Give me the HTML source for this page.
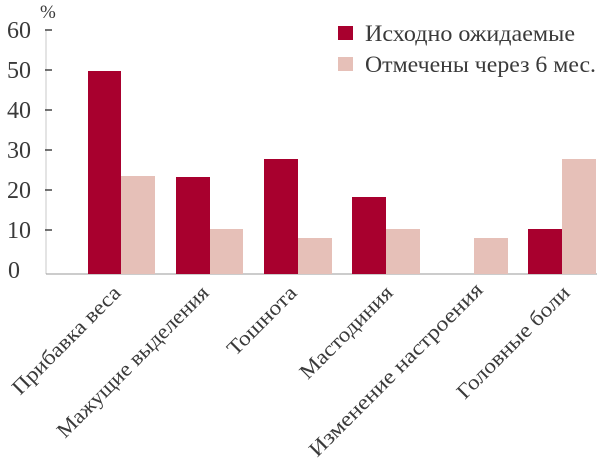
<!DOCTYPE html>
<html><head><meta charset="utf-8"><style>body{margin:0;background:#fff}svg{display:block}</style></head>
<body>
<svg width="600" height="465" xmlns="http://www.w3.org/2000/svg" font-family="'Liberation Serif', serif" fill="#3a3a3a">
<line x1="46" y1="30" x2="46" y2="274" stroke="#c8c8c8" stroke-width="1"/>
<line x1="46" y1="274" x2="597" y2="274" stroke="#999" stroke-width="1"/>
<g stroke="#444" stroke-width="1.5">
<line x1="45" y1="30" x2="52" y2="30"/><line x1="45" y1="70" x2="52" y2="70"/><line x1="45" y1="110" x2="52" y2="110"/><line x1="45" y1="150" x2="52" y2="150"/><line x1="45" y1="190" x2="52" y2="190"/><line x1="45" y1="230" x2="52" y2="230"/>
</g>
<g font-size="24" text-anchor="end">
<text x="31" y="38">60</text><text x="31" y="78">50</text><text x="31" y="118">40</text><text x="31" y="158">30</text><text x="31" y="198">20</text><text x="31" y="238">10</text><text x="20" y="278">0</text>
</g>
<text x="40" y="18" font-size="19">%</text>
<g fill="#a8002e">
<rect x="88" y="71" width="33" height="203"/>
<rect x="176" y="177" width="34" height="97"/>
<rect x="264" y="159" width="34" height="115"/>
<rect x="352" y="197" width="34" height="77"/>
<rect x="528" y="229" width="34" height="45"/>
</g>
<g fill="#e6c0b8">
<rect x="121" y="176" width="34" height="98"/>
<rect x="210" y="229" width="33" height="45"/>
<rect x="298" y="238" width="34" height="36"/>
<rect x="386" y="229" width="34" height="45"/>
<rect x="474" y="238" width="34" height="36"/>
<rect x="562" y="159" width="34" height="115"/>
</g>
<rect x="338" y="26" width="15" height="14" fill="#a8002e"/>
<rect x="338" y="57" width="15" height="14" fill="#e6c0b8"/>
<text x="365" y="41" font-size="23" textLength="210" lengthAdjust="spacingAndGlyphs">Исходно ожидаемые</text>
<text x="365" y="72" font-size="23" textLength="231" lengthAdjust="spacingAndGlyphs">Отмечены через 6 мес.</text>
<g font-size="21" text-anchor="end">
<text transform="translate(122,294) rotate(-45)" textLength="144" lengthAdjust="spacingAndGlyphs">Прибавка веса</text>
<text transform="translate(210,294) rotate(-45)" textLength="205" lengthAdjust="spacingAndGlyphs">Мажущие выделения</text>
<text transform="translate(298,294) rotate(-45)" textLength="89" lengthAdjust="spacingAndGlyphs">Тошнота</text>
<text transform="translate(394,294) rotate(-45)" textLength="122" lengthAdjust="spacingAndGlyphs">Мастодиния</text>
<text transform="translate(484,291) rotate(-45)" textLength="236" lengthAdjust="spacingAndGlyphs">Изменение настроения</text>
<text transform="translate(571,294) rotate(-45)" textLength="150" lengthAdjust="spacingAndGlyphs">Головные боли</text>
</g>
</svg>
</body></html>
